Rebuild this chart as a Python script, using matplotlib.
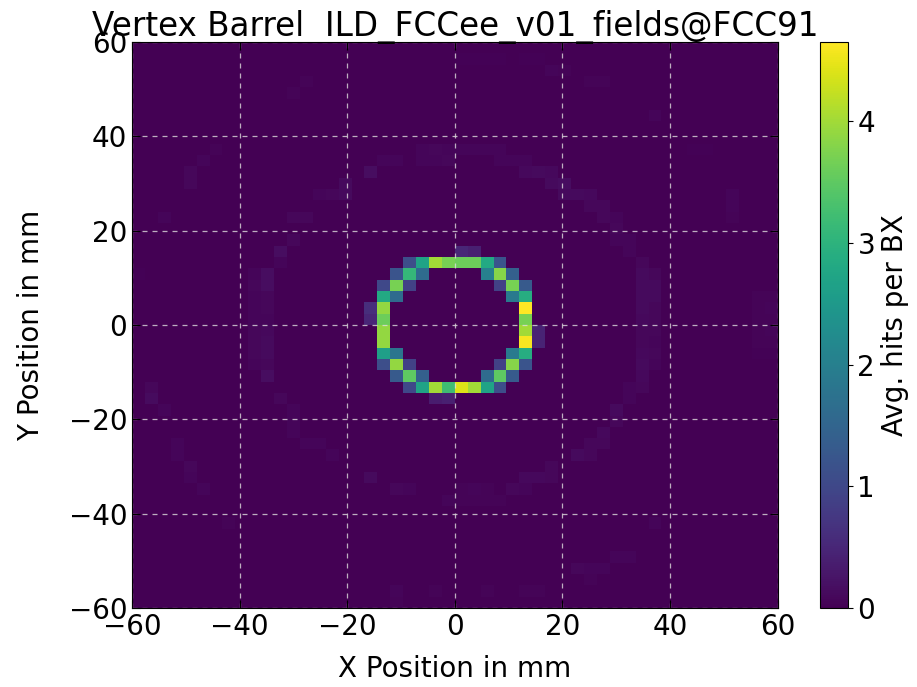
import numpy as np
import matplotlib
matplotlib.use("Agg")
import matplotlib.pyplot as plt

# 2D histogram, 50 x 50 bins of 2.4 mm over [-60, 60] mm
# cells given as (x bin, y bin, avg hits per BX), bin index 0 starts at 0 mm
inner_ring = [
    (0, 6, 0.5), (1, 6, 0.4),
    (-4, 5, 1.1), (-3, 5, 2.7), (-2, 5, 4.0), (-1, 5, 3.7), (0, 5, 3.6), (1, 5, 3.6), (2, 5, 2.8), (3, 5, 1.2),
    (-5, 4, 1.2), (-4, 4, 3.1), (-3, 4, 1.6), (2, 4, 2.0), (3, 4, 3.8), (4, 4, 1.4),
    (-6, 3, 1.0), (-5, 3, 3.7), (-4, 3, 0.9), (3, 3, 0.9), (4, 3, 3.7), (5, 3, 1.3),
    (-6, 2, 2.8), (-5, 2, 1.6), (4, 2, 1.9), (5, 2, 2.9),
    (-7, 1, 0.6), (-6, 1, 3.9), (5, 1, 4.65),
    (-7, 0, 0.5), (-6, 0, 3.6), (5, 0, 3.7),
    (-6, -1, 3.9), (5, -1, 4.0), (6, -1, 0.45),
    (-6, -2, 3.9), (5, -2, 4.6), (6, -2, 0.45),
    (-6, -3, 2.6), (-5, -3, 1.8), (4, -3, 1.9), (5, -3, 2.9),
    (-6, -4, 1.1), (-5, -4, 3.9), (-4, -4, 0.9), (3, -4, 0.9), (4, -4, 3.8), (5, -4, 1.2),
    (-5, -5, 1.3), (-4, -5, 3.5), (-3, -5, 1.4), (2, -5, 1.6), (3, -5, 3.5), (4, -5, 1.3),
    (-4, -6, 1.0), (-3, -6, 2.7), (-2, -6, 4.0), (-1, -6, 3.2), (0, -6, 4.4), (1, -6, 4.0), (2, -6, 2.7), (3, -6, 1.1),
    (-2, -7, 0.35), (-1, -7, 0.4),
]

outer_ring = [
    # upper left
    (-3, 15, 0.07), (-2, 15, 0.09), (-1, 15, 0.07), (-3, 14, 0.06), (-2, 14, 0.07), (-1, 14, 0.09),
    (-7, 13, 0.15), (-6, 14, 0.06), (-5, 14, 0.06),
    (-9, 12, 0.12), (-10, 11, 0.09), (-9, 11, 0.12), (-11, 11, 0.06),
    (-13, 9, 0.09), (-12, 9, 0.09), (-13, 7, 0.09), (-14, 6, 0.15), (-14, 5, 0.06),
    (-16, 4, 0.07), (-15, 4, 0.15), (-16, 3, 0.09), (-15, 3, 0.15), (-16, 2, 0.07), (-15, 2, 0.09),
    (-16, 1, 0.07), (-15, 1, 0.09), (-16, 0, 0.07), (-15, 0, 0.07),
    (-21, 13, 0.09), (-21, 12, 0.09), (-20, 14, 0.06), (-19, 15, 0.05), (-23, 9, 0.06),
    (-13, 20, 0.05), (-12, 21, 0.05), (-25, 4, 0.03),
    # upper right
    (0, 23, 0.03), (1, 23, 0.03), (2, 23, 0.03), (3, 23, 0.03), (5, 23, 0.03), (6, 23, 0.03),
    (7, 22, 0.07), (8, 22, 0.05), (10, 21, 0.05), (11, 21, 0.05), (15, 18, 0.06),
    (0, 15, 0.07), (1, 15, 0.07), (2, 15, 0.07), (3, 15, 0.06), (3, 14, 0.07), (4, 14, 0.07), (5, 14, 0.07),
    (5, 13, 0.1), (6, 13, 0.12), (7, 13, 0.1), (7, 12, 0.12), (8, 12, 0.15),
    (8, 11, 0.12), (9, 11, 0.12), (10, 11, 0.1), (10, 10, 0.09), (11, 10, 0.09),
    (11, 9, 0.09), (12, 9, 0.07), (12, 8, 0.09), (12, 7, 0.06), (13, 7, 0.07), (13, 6, 0.07),
    (14, 5, 0.09), (14, 4, 0.12), (15, 4, 0.09), (14, 3, 0.12), (15, 3, 0.12), (14, 2, 0.12), (15, 2, 0.12),
    (14, 1, 0.12), (15, 1, 0.09), (14, 0, 0.1), (15, 0, 0.09),
    (21, 11, 0.06), (21, 10, 0.07), (21, 9, 0.05), (23, 2, 0.05), (24, 2, 0.05), (23, 1, 0.05),
    (24, 1, 0.06), (23, 0, 0.05), (24, 0, 0.05), (18, 15, 0.03), (19, 15, 0.03),
    # lower left
    (-16, -1, 0.09), (-15, -1, 0.1), (-16, -2, 0.09), (-15, -2, 0.12), (-16, -3, 0.09), (-15, -3, 0.12),
    (-16, -4, 0.07), (-15, -4, 0.09), (-15, -5, 0.15),
    (-14, -7, 0.09), (-13, -8, 0.07), (-13, -9, 0.07), (-13, -10, 0.06), (-12, -11, 0.07), (-11, -11, 0.07),
    (-10, -12, 0.07), (-7, -14, 0.12), (-5, -15, 0.09), (-4, -15, 0.06), (-1, -16, 0.07),
    (-24, -6, 0.09), (-24, -7, 0.13), (-23, -8, 0.06), (-22, -11, 0.07), (-22, -12, 0.07),
    (-21, -13, 0.09), (-21, -14, 0.07), (-20, -15, 0.07), (-18, -18, 0.05),
    (-5, -24, 0.06), (-5, -25, 0.05), (-2, -24, 0.05),
    # lower right
    (14, -1, 0.09), (15, -1, 0.09), (14, -2, 0.09), (15, -2, 0.07), (14, -3, 0.1), (15, -3, 0.09),
    (14, -4, 0.12), (15, -4, 0.07), (14, -5, 0.1), (14, -6, 0.09), (13, -6, 0.07), (13, -7, 0.06),
    (12, -8, 0.12), (12, -9, 0.09), (11, -10, 0.1), (11, -11, 0.09), (10, -11, 0.09), (10, -12, 0.09),
    (9, -12, 0.12), (7, -13, 0.09), (7, -14, 0.09), (6, -14, 0.1), (5, -14, 0.1), (4, -15, 0.09),
    (5, -15, 0.06), (0, -15, 0.05), (1, -15, 0.06), (2, -15, 0.05), (0, -16, 0.05), (1, -16, 0.05),
    (2, -16, 0.05), (3, -16, 0.05),
    (15, -18, 0.06), (12, -21, 0.06), (13, -21, 0.06), (9, -22, 0.09), (10, -22, 0.06), (11, -22, 0.07),
    (10, -23, 0.05), (2, -24, 0.05), (5, -24, 0.05), (6, -24, 0.05),
    (23, -1, 0.05), (24, -1, 0.06), (23, -2, 0.05), (24, -2, 0.05), (23, -3, 0.03), (24, -3, 0.03),
]

n_bins = 50
lim = 60
bin_w = 2 * lim / n_bins

cells = np.array(inner_ring + outer_ring, dtype=float)
x = (cells[:, 0] + 0.5) * bin_w
y = (cells[:, 1] + 0.5) * bin_w
w = cells[:, 2]

fig = plt.figure(figsize=(9.17, 6.87), dpi=100)
ax = fig.add_axes([0.144, 0.115, 0.704, 0.824])
cax = fig.add_axes([0.894, 0.115, 0.0305, 0.824])

h = ax.hist2d(x, y, bins=n_bins, range=[[-lim, lim], [-lim, lim]], weights=w, cmap="viridis")
cb = fig.colorbar(h[3], cax=cax)
cb.set_label("Avg. hits per BX", fontsize=20)
cb.ax.tick_params(labelsize=20)
cb.set_ticks([0, 1, 2, 3, 4])

ax.set_xticks(np.arange(-60, 61, 20))
ax.set_yticks(np.arange(-60, 61, 20))
ax.tick_params(direction="in", top=True, right=True, labelsize=20, length=6)
ax.set_axisbelow("line")
ax.grid(True, color="#dddddd", linestyle=(0, (4, 4)), linewidth=0.9, alpha=0.8)
ax.set_xlabel("X Position in mm", fontsize=20, labelpad=10)
ax.set_ylabel("Y Position in mm", fontsize=20, labelpad=17)

fig.text(0.497, 0.948, "Vertex Barrel  ILD_FCCee_v01_fields@FCC91", ha="center", va="baseline",
         fontsize=23.5)

fig.savefig("out.png", dpi=100)
